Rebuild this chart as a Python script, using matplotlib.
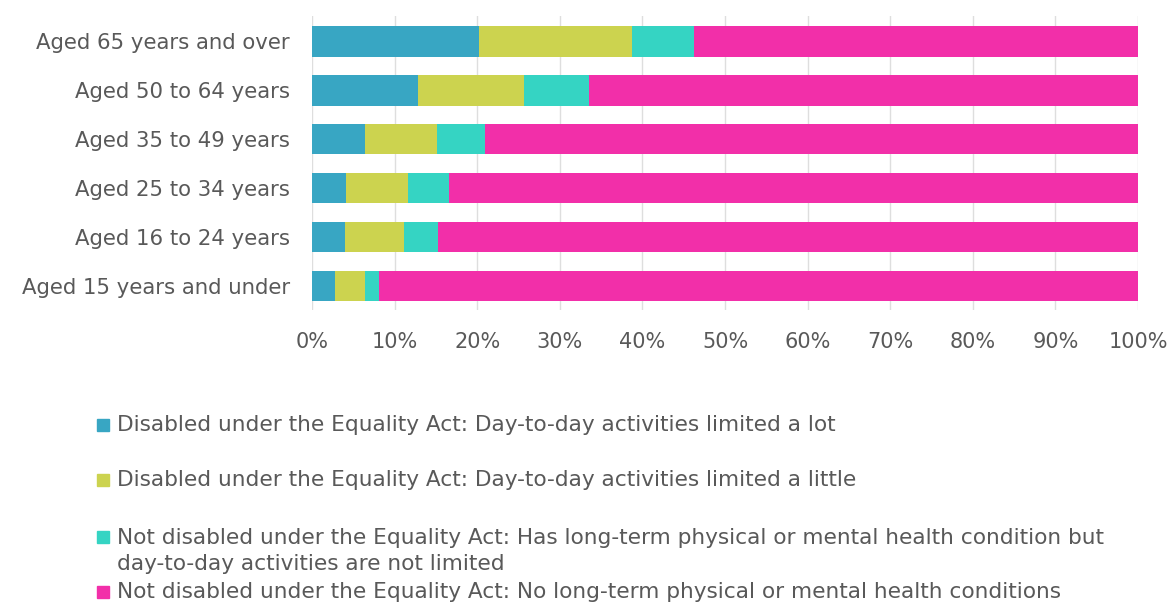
import numpy as np
import matplotlib.pyplot as plt
from matplotlib.patches import Rectangle

plt.rcParams['font.family'] = ['DejaVu Sans']

ages = ['Aged 15 years and under', 'Aged 16 to 24 years', 'Aged 25 to 34 years',
        'Aged 35 to 49 years', 'Aged 50 to 64 years', 'Aged 65 years and over']
limited_lot = [2.8, 3.95, 4.15, 6.45, 12.8, 20.2]
limited_little = [3.65, 7.15, 7.45, 8.65, 12.9, 18.5]
not_limited = [1.7, 4.2, 5.0, 5.8, 7.8, 7.55]
no_condition = [91.85, 84.7, 83.4, 79.1, 66.5, 53.75]

labels = ['Disabled under the Equality Act: Day-to-day activities limited a lot',
          'Disabled under the Equality Act: Day-to-day activities limited a little',
          'Not disabled under the Equality Act: Has long-term physical or mental health condition but\nday-to-day activities are not limited',
          'Not disabled under the Equality Act: No long-term physical or mental health conditions']
colors = ['#38a6c3', '#ccd34f', '#35d4c3', '#f22fa9']
txt = '#595959'

fig = plt.figure(figsize=(11.71, 6.03), dpi=100)
ax = fig.add_axes([312 / 1171, 1 - 310 / 603, 826 / 1171, 294 / 603])

series = [limited_lot, limited_little, not_limited, no_condition]
y = np.arange(len(ages))
left = np.zeros(len(ages))
for vals, c in zip(series, colors):
    ax.barh(y, vals, left=left, height=0.62, color=c, zorder=3)
    left += np.array(vals)

ax.set_xlim(0, 100)
ax.set_ylim(-0.49, 5.52)
ax.set_xticks(np.arange(0, 101, 10))
ax.set_xticklabels([f'{v}%' for v in range(0, 101, 10)])
ax.set_yticks(y)
ax.set_yticklabels(ages)
ax.tick_params(length=0, labelsize=15.3, colors=txt)
ax.tick_params(axis='x', pad=16, labelsize=15)
ax.tick_params(axis='y', pad=16)
ax.grid(axis='x', color='#dedede', linewidth=1, zorder=0)
for s in ax.spines.values():
    s.set_visible(False)

# legend drawn by hand, fixed row pitch as in the source
leg_y = [425, 480, 537, 592]
for lab, c, yy in zip(labels, colors, leg_y):
    fig.patches.append(Rectangle((97 / 1171, 1 - (yy + 6) / 603), 12 / 1171, 12 / 603,
                                 transform=fig.transFigure, color=c))
    ty = yy + 14 if '\n' in lab else yy
    fig.text(117 / 1171, 1 - ty / 603, lab, fontsize=15.6, color=txt,
             va='center', linespacing=1.4)

fig.savefig('out.png')
